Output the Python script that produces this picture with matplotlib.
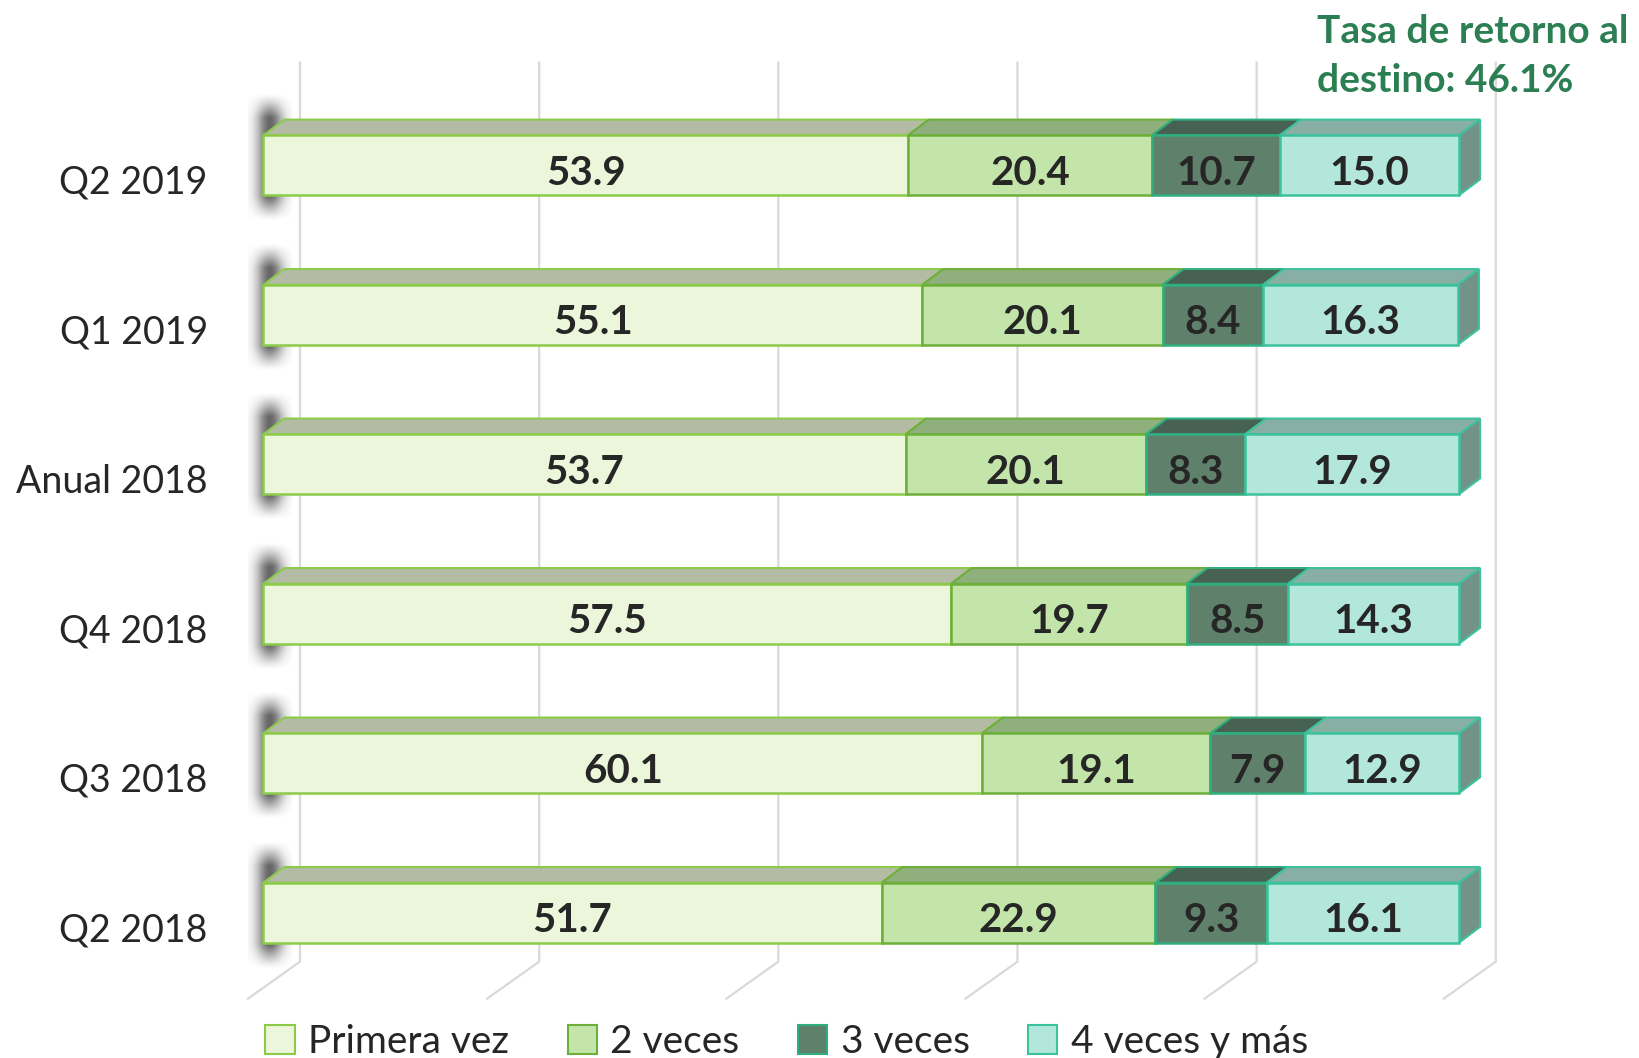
import numpy as np
import matplotlib
matplotlib.use('Agg')
import matplotlib.pyplot as plt
from matplotlib.patches import Polygon, Patch
from matplotlib.transforms import ScaledTranslation

plt.rcParams['font.family'] = ['Lato', 'DejaVu Sans']

# data
periods = ['Q2 2019', 'Q1 2019', 'Anual 2018', 'Q4 2018', 'Q3 2018', 'Q2 2018']
series = ['Primera vez', '2 veces', '3 veces', '4 veces y más']
primera = [53.9, 55.1, 53.7, 57.5, 60.1, 51.7]
dos = [20.4, 20.1, 20.1, 19.7, 19.1, 22.9]
tres = [10.7, 8.4, 8.3, 8.5, 7.9, 9.3]
cuatro = [15.0, 16.3, 17.9, 14.3, 12.9, 16.1]
note = 'Tasa de retorno al\ndestino: 46.1%'

front = ['#EBF6DB', '#C3E5AA', '#5F806B', '#B3E7DB']
top_c = ['#B3BBA5', '#8FB07C', '#476152', '#88AFA4']
side_c = '#739388'
edges = ['#8CCB4A', '#6DAF3A', '#2FAF7F', '#3CC29C']

W, H = 1639, 1058
fig = plt.figure(figsize=(W / 100, H / 100), dpi=100)
# axes placed so that x 0..100 spans the bar fronts, y one unit per period
x0, x1 = 263.4, 1459.2
ytop, ybot = 90.45, 987.35
ax = fig.add_axes([x0 / W, 1 - ybot / H, (x1 - x0) / W, (ybot - ytop) / H])
ax.set_xlim(0, 100)
ax.set_ylim(5.5, -0.5)
pxx = (x1 - x0) / 100.0
pxy = (ybot - ytop) / 6.0

dx = 20.9 / pxx
dy = -15.7 / pxy
bh = 0.40

# back wall gridlines with floor
for g in range(0, 101, 20):
    xb = g + 36.6 / pxx
    ax.plot([xb, xb, xb - 52 / pxx], [-0.686, 5.328, 5.328 + 37 / pxy],
            color='#D9D9D9', lw=1.6, clip_on=False, zorder=0)

# soft shadow behind the left end of each bar
gx = np.linspace(-1, 1, 60)
gy = np.linspace(0, 1, 100)
fx = np.exp(-(gx[None, :] / 0.6) ** 2)
fy = np.clip(np.sin(np.pi * gy[:, None]) * 1.8, 0, 1) ** 1.3
shade = np.zeros((100, 60, 4))
shade[..., 0:3] = 0.3
shade[..., 3] = 0.85 * fx * fy

data = [primera, dos, tres, cuatro]
y = np.arange(len(periods))

for i in range(len(periods)):
    ax.imshow(shade, extent=[-1.3, 2.3, i + bh / 2 + 26 / pxy, i - bh / 2 - 42 / pxy],
              aspect='auto', zorder=1, clip_on=False, interpolation='bilinear')

left = np.zeros(len(periods))
for k, vals in enumerate(data):
    vals = np.array(vals)
    for i in range(len(periods)):
        l, w = left[i], vals[i]
        t = i - bh / 2
        ax.add_patch(Polygon([(l, t), (l + w, t), (l + w + dx, t + dy), (l + dx, t + dy)],
                             closed=True, facecolor=top_c[k], edgecolor=edges[k],
                             lw=1.5, zorder=2, clip_on=False))
        if k == len(data) - 1:
            r = l + w
            ax.add_patch(Polygon([(r, t), (r + dx, t + dy), (r + dx, t + bh + dy), (r, t + bh)],
                                 closed=True, facecolor=side_c, edgecolor=edges[k],
                                 lw=1.5, zorder=2, clip_on=False))
    ax.barh(y, vals, left=left, height=bh, color=front[k], edgecolor=edges[k],
            lw=1.8, zorder=3, clip_on=False)
    for i in range(len(periods)):
        ax.text(left[i] + vals[i] / 2, i + 0.03, f'{vals[i]:.1f}', ha='center',
                va='center_baseline', fontsize=29, fontweight='bold', color='#262626', zorder=4)
    left += vals

ax.set_yticks(y)
ax.set_yticklabels(periods, fontsize=27, color='#262626')
ax.tick_params(axis='y', length=0, pad=40)
for lab in ax.get_yticklabels():
    lab.set_transform(lab.get_transform() + ScaledTranslation(0, -0.14, fig.dpi_scale_trans))
ax.set_xticks([])
for s in ax.spines.values():
    s.set_visible(False)
ax.patch.set_visible(False)

fig.text(1317 / W, 1 - 56 / H, note, ha='left', va='center', fontsize=28,
         fontweight='bold', color='#2B7F52', linespacing=1.5)

handles = [Patch(facecolor=front[k], edgecolor=edges[k], lw=1.5) for k in range(4)]
fig.legend(handles, series, loc='lower center', bbox_to_anchor=(0.48, -0.035), ncol=4,
           frameon=False, fontsize=28, handlelength=0.75, handleheight=0.75,
           handletextpad=0.35, columnspacing=1.5, labelcolor='#262626')

fig.savefig('out.png', dpi=100)
